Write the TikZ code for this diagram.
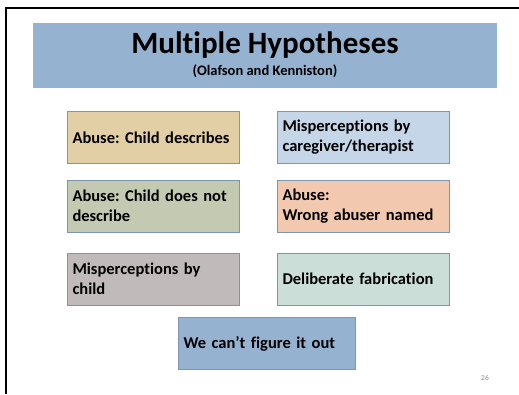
\documentclass[tikz,border=0pt]{standalone}
\usepackage{fontspec}
\setmainfont{Carlito}[Ligatures=NoCommon]
\usetikzlibrary{positioning}
\frenchspacing

\definecolor{titleblue}{RGB}{149,179,209}
\definecolor{boxedge}{RGB}{125,150,175}
\definecolor{tanfill}{RGB}{227,207,166}
\definecolor{paleblue}{RGB}{197,214,232}
\definecolor{sagefill}{RGB}{196,202,178}
\definecolor{salmonfill}{RGB}{242,201,175}
\definecolor{mauvefill}{RGB}{193,186,186}
\definecolor{tealfill}{RGB}{204,222,216}
\definecolor{numgray}{RGB}{140,140,140}

\tikzset{
  hypbox/.style={draw=boxedge, line width=0.9pt, minimum width=172pt, minimum height=52pt,
    text width=161pt, inner xsep=5.5pt, align=left,
    font=\fontsize{16.5}{20}\selectfont\bfseries},
}

\begin{document}
\begin{tikzpicture}[x=1pt,y=1pt,yscale=-1]
\useasboundingbox (0,0) rectangle (519,394);

%frame
\draw [line width=2pt] (6,394) -- (6,7.5) -- (519,7.5) ;

%Title
\fill [titleblue] (33,23) rectangle (497,88) ;
\node (title) at (265,45) {\fontsize{31}{34}\selectfont\bfseries Multiple Hypotheses};
\node (source) at (265,71.5) {\fontsize{14.5}{16}\selectfont\bfseries (Olafson and Kenniston)};

%Hypotheses
\node [hypbox, fill=tanfill] (describes) at (153,137.5) {Abuse: Child describes};
\node [hypbox, fill=paleblue] (caregiver) at (363,137) {Misperceptions by\\caregiver/therapist};
\node [hypbox, fill=sagefill] (notdescribe) at (153,206) {Abuse: Child does not\\describe};
\node [hypbox, fill=salmonfill] (wrongabuser) at (363,206) {Abuse:\\Wrong abuser named};
\node [hypbox, fill=mauvefill] (childmisp) at (153,279) {Misperceptions by\\child};
\node [hypbox, fill=tealfill] (fabrication) at (363,279) {Deliberate fabrication};
\node [hypbox, fill=titleblue, minimum width=177pt, text width=166pt] (unknown) at (266.5,343.5) {We can’t figure it out};

%slide number
\node [text=numgray, font=\fontsize{7.5}{8}\selectfont] (slidenum) at (485,378) {26};

\end{tikzpicture}
\end{document}
